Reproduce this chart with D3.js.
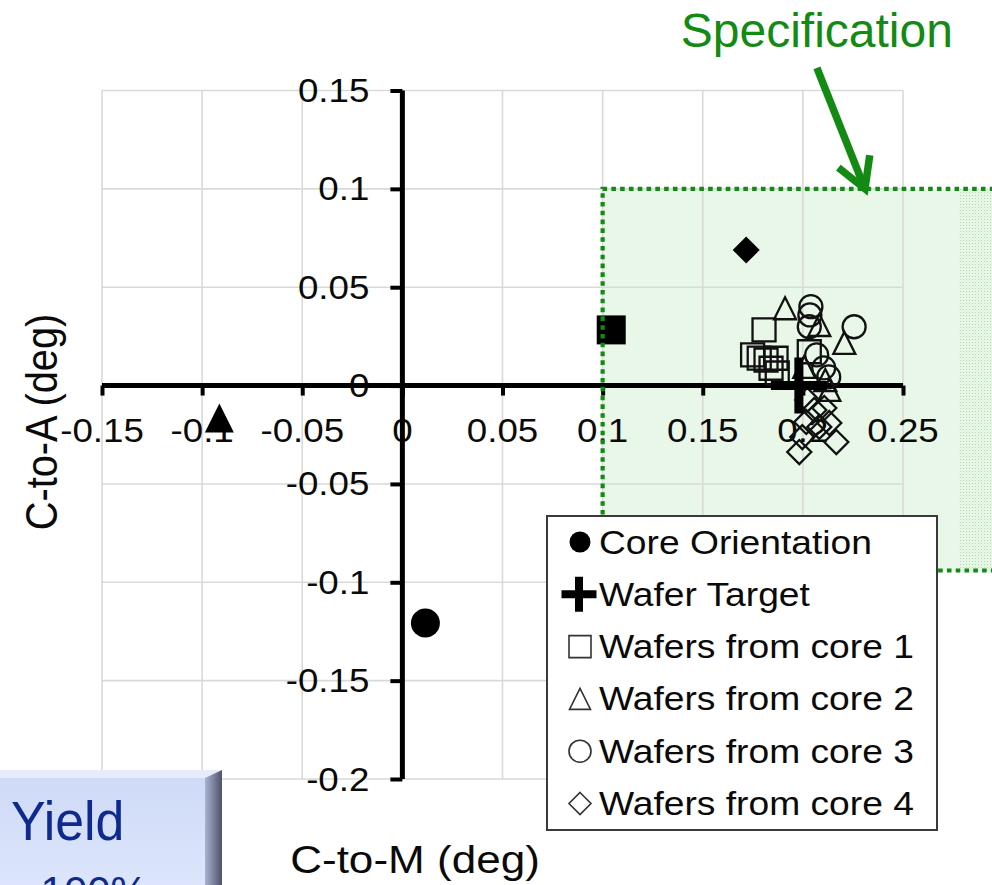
<!DOCTYPE html>
<html>
<head>
<meta charset="utf-8">
<script src="https://cdn.jsdelivr.net/npm/d3@7"></script>
<style>
  html, body { margin: 0; padding: 0; background: #fff; overflow: hidden; }
  svg { display: block; font-family: "Liberation Sans", Arial, sans-serif; }
</style>
</head>
<body>
<svg id="chart" width="992" height="885"></svg>
<script>
// ---- axis ticks ----
const xTicks = [-0.15, -0.1, -0.05, 0, 0.05, 0.1, 0.15, 0.2, 0.25];
const xTickLabels = ["-0.15", "-0.1", "-0.05", "0", "0.05", "0.1", "0.15", "0.2", "0.25"];
const yTicks = [-0.2, -0.15, -0.1, -0.05, 0, 0.05, 0.1, 0.15];
const yTickLabels = ["-0.2", "-0.15", "-0.1", "-0.05", "0", "0.05", "0.1", "0.15"];

// ---- measured orientations (deg): [C-to-M, C-to-A] ----
// filled markers: orientation of each core (circle = core orientation key)
const coreOrientationShapes = ["circle", "square", "triangle", "diamond"];
const coreOrientationX = [0.0115, 0.1043, -0.0914, 0.1717];
const coreOrientationY = [-0.1207, 0.0283, -0.0165, 0.0689];

const waferTarget = [0.198, 0.0];

const core1X = [0.1806, 0.1749, 0.1782, 0.1816, 0.1866, 0.1841, 0.1872, 0.2032];
const core1Y = [0.0283, 0.0156, 0.0140, 0.0130, 0.0139, 0.0088, 0.0064, 0.0172];

const core2X = [0.1911, 0.2082, 0.2207, 0.2007, 0.2132, 0.2112];
const core2Y = [0.0393, 0.0308, 0.0217, 0.0095, -0.0022, 0.0028];

const core3X = [0.2040, 0.2035, 0.2032, 0.2256, 0.2069, 0.2104, 0.2129];
const core3Y = [0.0401, 0.0359, 0.0299, 0.0299, 0.0156, 0.0090, 0.0044];

const core4X = [0.2022, 0.2057, 0.2107, 0.2017, 0.2082, 0.1997, 0.2167, 0.1982, 0.2132];
const core4Y = [-0.0073, -0.0124, -0.0114, -0.0185, -0.0210, -0.0262, -0.0287, -0.0338, -0.0190];

// specification window (deg)
const specX = [0.1, 0.3];
const specY = [-0.094, 0.1];
const specTextureFromX = 0.278;
// annotation: label anchor and arrow (tail -> tip), in data units
const specLabel = { text: "Specification", x: 0.139, y: 0.172 };
const specArrowTail = [0.207, 0.1615];
const specArrowTip = [0.231, 0.1];

const legendLabels = ["Core Orientation", "Wafer Target", "Wafers from core 1",
  "Wafers from core 2", "Wafers from core 3", "Wafers from core 4"];
const legendShapes = ["dot", "plus", "square", "triangle", "circle", "diamond"];

const xTitle = "C-to-M (deg)";
const yTitle = "C-to-A (deg)";
const yieldLines = ["Yield", "~100%"];

// ---- setup ----
const svg = d3.select("#chart");
const x = d3.scaleLinear().domain([-0.15, 0.25]).range([102, 903]);
const y = d3.scaleLinear().domain([-0.2, 0.15]).range([779, 90.5]);
const STRETCH = 1.13;   // chart lettering is drawn slightly wide
const GREEN = "#138a13";
const INK = "#0a0a0a";

const defs = svg.append("defs");
const pat = defs.append("pattern").attr("id", "speckle")
  .attr("width", 3).attr("height", 3).attr("patternUnits", "userSpaceOnUse");
pat.append("rect").attr("width", 3).attr("height", 3).attr("fill", "#eef9ee");
pat.append("rect").attr("width", 1).attr("height", 1).attr("fill", "#a6dca6");
pat.append("rect").attr("x", 1.5).attr("y", 1.5).attr("width", 1).attr("height", 1).attr("fill", "#c2e8c2");

function wideText(g, str, px, py, size, anchor, fill) {
  return g.append("text")
    .attr("transform", `translate(${px},${py}) scale(${STRETCH},1)`)
    .attr("text-anchor", anchor || "start")
    .attr("font-size", size)
    .attr("fill", fill || INK)
    .text(str);
}

// marker path generators (centered at 0,0)
const shapePath = {
  square: s => `M${-s/2},${-s/2}h${s}v${s}h${-s}Z`,
  triangle: s => `M0,${-s/2}L${s/2},${s/2}L${-s/2},${s/2}Z`,
  diamond: s => `M0,${-s/2}L${s/2},0L0,${s/2}L${-s/2},0Z`,
  circle: s => `M${s/2},0A${s/2},${s/2} 0 1 1 ${-s/2},0A${s/2},${s/2} 0 1 1 ${s/2},0Z`,
  dot: s => shapePath.circle(s),
  plus: (s, t) => `M${-t/2},${-s/2}h${t}v${s/2 - t/2}h${s/2 - t/2}v${t}h${-(s/2 - t/2)}v${s/2 - t/2}h${-t}v${-(s/2 - t/2)}h${-(s/2 - t/2)}v${-t}h${s/2 - t/2}Z`
};

// ---- specification fill (behind the grid) ----
const specLeft = x(specX[0]), specRight = x(specX[1]);
const specTop = y(specY[1]), specBottom = y(specY[0]);
svg.append("rect")
  .attr("x", specLeft).attr("y", specTop)
  .attr("width", specRight - specLeft).attr("height", specBottom - specTop)
  .attr("fill", "#e9f7e9");
svg.append("rect")
  .attr("x", x(specTextureFromX)).attr("y", specTop)
  .attr("width", specRight - x(specTextureFromX)).attr("height", specBottom - specTop)
  .attr("fill", "url(#speckle)");

// ---- gridlines ----
const grid = svg.append("g").attr("stroke", "#d9d9d9").attr("stroke-width", 1.6);
grid.selectAll(".gx").data(xTicks).join("line")
  .attr("x1", d => x(d)).attr("x2", d => x(d))
  .attr("y1", y(0.15)).attr("y2", y(-0.2));
grid.selectAll(".gy").data(yTicks).join("line")
  .attr("x1", x(-0.15)).attr("x2", x(0.25))
  .attr("y1", d => y(d)).attr("y2", d => y(d));

// ---- tick labels ----
const labels = svg.append("g");
xTicks.forEach((v, i) => wideText(labels, xTickLabels[i], x(v), y(0) + 56.5, 32.5, "middle"));
yTicks.forEach((v, i) => wideText(labels, yTickLabels[i], x(0) - 33, y(v) + 11.5, 32.5, "end"));

// ---- axes through the origin ----
const axisX = d3.axisBottom(x).tickValues(xTicks).tickSize(10).tickFormat("");
const axisY = d3.axisLeft(y).tickValues(yTicks).tickSize(12).tickFormat("");
const gx = svg.append("g").attr("transform", `translate(0,${y(0)})`).call(axisX);
const gy = svg.append("g").attr("transform", `translate(${x(0)},0)`).call(axisY);
[gx, gy].forEach(g => {
  g.select(".domain").attr("stroke", "#000").attr("stroke-width", 5)
    .attr("d", g === gx ? `M${x(-0.15)},0H${x(0.25)}` : `M0,${y(0.15)}V${y(-0.2)}`);
  g.selectAll(".tick line").attr("stroke", "#000").attr("stroke-width", 4);
});

// ---- axis titles ----
wideText(svg, xTitle, 415, 873, 39, "middle");
svg.append("text")
  .attr("transform", `translate(57,422) rotate(-90) scale(1.02,${STRETCH})`)
  .attr("text-anchor", "middle").attr("font-size", 39).attr("fill", INK)
  .text(yTitle);

// ---- data marks ----
const marks = svg.append("g");
const coreOrient = coreOrientationX.map((v, i) => ({ x: v, y: coreOrientationY[i], shape: coreOrientationShapes[i] }));
const filledSize = { circle: 29, square: 29, triangle: 29, diamond: 27 };
marks.selectAll(".core").data(coreOrient).join("path")
  .attr("transform", d => `translate(${x(d.x)},${y(d.y)})`)
  .attr("d", d => shapePath[d.shape](filledSize[d.shape]))
  .attr("fill", "#000");

const wafers = [
  { xs: core1X, ys: core1Y, shape: "square", size: 23 },
  { xs: core2X, ys: core2Y, shape: "triangle", size: 22 },
  { xs: core3X, ys: core3Y, shape: "circle", size: 23 },
  { xs: core4X, ys: core4Y, shape: "diamond", size: 24 }
];
wafers.forEach(series => {
  const pts = series.xs.map((v, i) => ({ x: v, y: series.ys[i] }));
  marks.append("g").selectAll("path").data(pts).join("path")
    .attr("transform", d => `translate(${x(d.x)},${y(d.y)})`)
    .attr("d", shapePath[series.shape](series.size))
    .attr("fill", "none").attr("stroke", "#111").attr("stroke-width", 2.3);
});

marks.append("path")
  .attr("transform", `translate(${x(waferTarget[0])},${y(waferTarget[1])})`)
  .attr("d", shapePath.plus(56, 9))
  .attr("fill", "#000");

// ---- specification outline and callout ----
svg.append("path")
  .attr("d", `M${specRight},${specTop}H${specLeft}V${specBottom}H${specRight}`)
  .attr("fill", "none").attr("stroke", GREEN).attr("stroke-width", 4.2)
  .attr("stroke-dasharray", "4.6 4.2");

svg.append("text")
  .attr("x", x(specLabel.x)).attr("y", y(specLabel.y))
  .attr("font-size", 48).attr("fill", GREEN)
  .text(specLabel.text);

const tail = [x(specArrowTail[0]), y(specArrowTail[1])];
const tip = [x(specArrowTip[0]), y(specArrowTip[1])];
const ang = Math.atan2(tip[1] - tail[1], tip[0] - tail[0]);
const headLen = 34, headSpread = 0.52;
const arrow = svg.append("g").attr("stroke", GREEN).attr("stroke-width", 7.5)
  .attr("stroke-linecap", "butt").attr("fill", "none");
arrow.append("line").attr("x1", tail[0]).attr("y1", tail[1])
  .attr("x2", tip[0] - 3 * Math.cos(ang)).attr("y2", tip[1] - 3 * Math.sin(ang));
arrow.append("path")
  .attr("stroke-linejoin", "miter")
  .attr("d", `M${tip[0] - headLen * Math.cos(ang - headSpread)},${tip[1] - headLen * Math.sin(ang - headSpread)}` +
    `L${tip[0]},${tip[1]}` +
    `L${tip[0] - headLen * Math.cos(ang + headSpread)},${tip[1] - headLen * Math.sin(ang + headSpread)}`);

// ---- legend ----
const legend = svg.append("g");
legend.append("rect")
  .attr("x", 547).attr("y", 516).attr("width", 390).attr("height", 314)
  .attr("fill", "#fff").attr("stroke", "#3a3a3a").attr("stroke-width", 2);
legendLabels.forEach((lab, i) => {
  const cy = 542 + i * 52.3;
  const shape = legendShapes[i];
  const p = legend.append("path").attr("transform", `translate(580,${cy})`);
  if (shape === "dot") p.attr("d", shapePath.dot(21)).attr("fill", "#000");
  else if (shape === "plus") p.attr("d", shapePath.plus(35, 8)).attr("fill", "#000").attr("transform", `translate(579,${cy})`);
  else p.attr("d", shapePath[shape](shape === "triangle" ? 21 : 22))
    .attr("fill", "none").attr("stroke", "#333").attr("stroke-width", 1.6);
  wideText(legend, lab, 599, cy + 11.5, 32.5, "start").attr("textLength", null);
});
// legend lines run slightly wider
legend.selectAll("text").attr("transform", function () {
  return d3.select(this).attr("transform").replace(`scale(${STRETCH},1)`, "scale(1.145,1)");
});

// ---- yield panel (bottom left) ----
const yg = svg.append("g");
const faceGrad = defs.append("linearGradient").attr("id", "yieldFace")
  .attr("x1", 0).attr("y1", 0).attr("x2", 0).attr("y2", 1);
faceGrad.append("stop").attr("offset", 0).attr("stop-color", "#cfdaf6");
faceGrad.append("stop").attr("offset", 1).attr("stop-color", "#dce5fb");
const sideGrad = defs.append("linearGradient").attr("id", "yieldSide")
  .attr("x1", 0).attr("y1", 0).attr("x2", 1).attr("y2", 0);
sideGrad.append("stop").attr("offset", 0).attr("stop-color", "#aab2cf");
sideGrad.append("stop").attr("offset", 0.5).attr("stop-color", "#7c839f");
sideGrad.append("stop").attr("offset", 1).attr("stop-color", "#4d5268");
yg.append("rect").attr("x", 0).attr("y", 778).attr("width", 205).attr("height", 107)
  .attr("fill", "url(#yieldFace)");
yg.append("path").attr("d", "M0,770H222L205,778H0Z").attr("fill", "#e6ecfb");
yg.append("path").attr("d", "M205,778L222,770V885H205Z").attr("fill", "url(#yieldSide)");
yg.append("text").attr("transform", "translate(11,840) scale(0.96,1.04)")
  .attr("font-size", 54).attr("fill", "#0e2a8e").text(yieldLines[0]);
yg.append("text").attr("x", 16).attr("y", 906).attr("font-size", 42)
  .attr("fill", "#0e2a8e").text(yieldLines[1]);
</script>
</body>
</html>
